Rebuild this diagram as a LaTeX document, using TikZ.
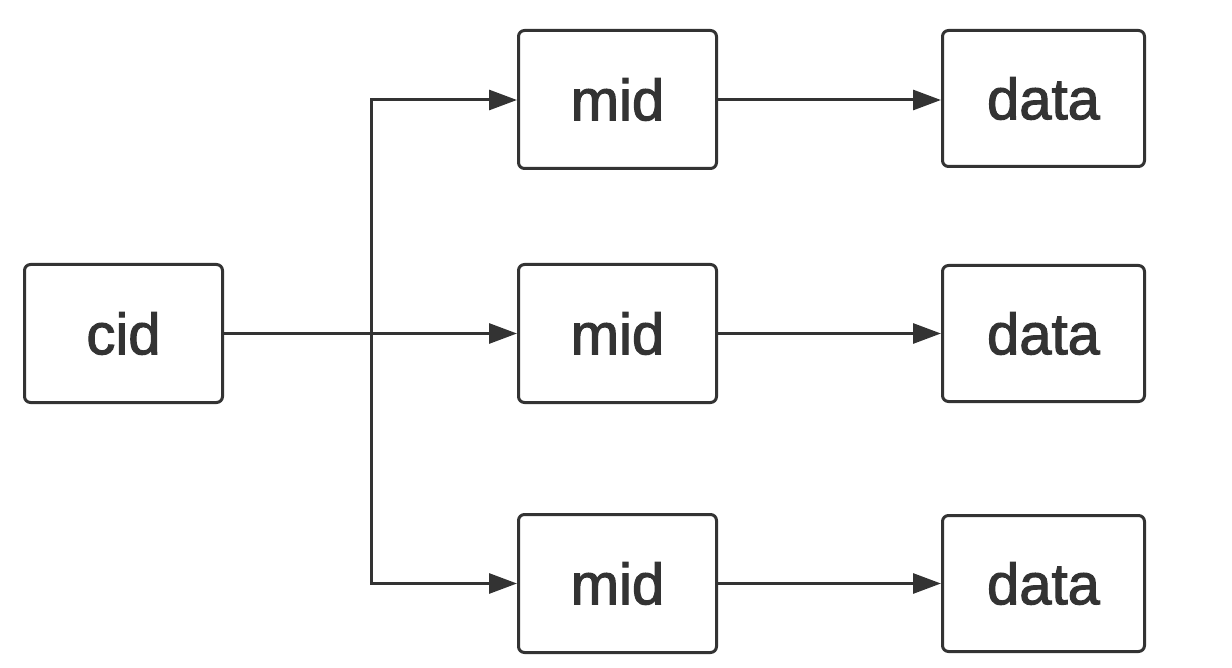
\documentclass[tikz,border=0pt]{standalone}
\usepackage{fontspec}
\setmainfont{Liberation Sans}
\usetikzlibrary{arrows.meta}
\definecolor{ink}{HTML}{333333}
\newcommand{\heavy}[1]{\special{pdf:literal direct 2 Tr 1.1 w}#1\special{pdf:literal direct 0 Tr}}
\begin{document}
\begin{tikzpicture}[x=1pt,y=-1pt,
  box/.style={draw=ink,line width=3pt,rounded corners=6pt,minimum width=198pt,minimum height=138pt,inner sep=0pt,text=ink,font=\fontsize{58}{62}\selectfont},
  wide/.style={minimum width=202pt,minimum height=136pt},
  conn/.style={draw=ink,line width=3pt,-{Triangle[length=28pt,width=20pt]}}]
\useasboundingbox (0,0) rectangle (1232,668);
\fill[white] (0,0) rectangle (1232,668);
\node[box] (cid) at (123.5,333.5) {\heavy{cid}};
\node[box] (m1) at (617.5,99.5) {\heavy{mid}};
\node[box] (m2) at (617.5,333.5) {\heavy{mid}};
\node[box] (m3) at (617.5,583.5) {\heavy{mid}};
\node[box,wide] (d1) at (1043.5,98.5) {\heavy{data}};
\node[box,wide] (d2) at (1043.5,333.5) {\heavy{data}};
\node[box,wide] (d3) at (1043.5,583.5) {\heavy{data}};
\coordinate (j) at (371,333.5);
\draw[conn] (cid.east) -- (m2.west);
\draw[conn] (j) -- (371,100) -- (m1.west |- 0,100);
\draw[conn] (j) -- (371,583.5) -- (m3.west);
\draw[conn] (m1.east |- 0,100) -- (d1.west |- 0,100);
\draw[conn] (m2.east) -- (d2.west);
\draw[conn] (m3.east) -- (d3.west);
\end{tikzpicture}
\end{document}
